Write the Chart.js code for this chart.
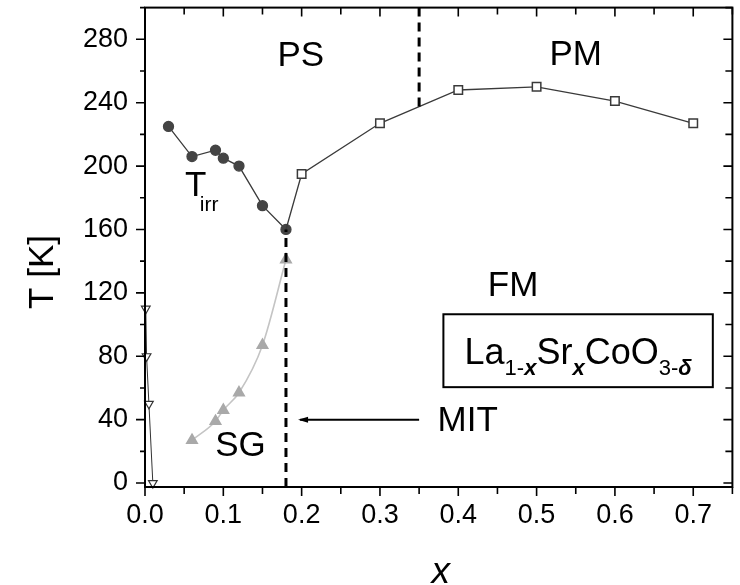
<!DOCTYPE html>
<html>
<head>
<meta charset="utf-8">
<script src="https://cdn.jsdelivr.net/npm/chart.js@4/dist/chart.umd.min.js"></script>
<style>
    html, body { margin: 0; padding: 0; background: #fff; }
</style>
</head>
<body>
<canvas id="phaseChart" width="740" height="585"></canvas>
<script>
// T_irr (filled circles)
const irrX = [0.03, 0.06, 0.09, 0.10, 0.12, 0.15, 0.18];
const irrT = [225, 206, 210, 205, 200, 175, 160];
// Curie temperature (open squares)
const curieX = [0.2, 0.3, 0.4, 0.5, 0.6, 0.7];
const curieT = [195, 227, 248, 250, 241, 227];
// spin-glass freezing (grey triangles)
const glassX = [0.06, 0.09, 0.10, 0.12, 0.15, 0.18];
const glassT = [27, 39, 46, 57, 87, 141];
// low-x transition (open down triangles)
const lowX = [0.001, 0.002, 0.005, 0.01];
const lowT = [110, 80, 50, 0];

// boundaries
const mitX = 0.18;
const mitTop = 160;
const psX = 0.35;
const psBottom = 237;
const arrowX = [0.35, 0.198];
const arrowT = 40;

// axes
const xMin = 0, xMax = 0.75;
const yMin = -2.5, yMax = 300;
const xTicks = [0, 0.05, 0.1, 0.15, 0.2, 0.25, 0.3, 0.35, 0.4, 0.45, 0.5, 0.55, 0.6, 0.65, 0.7, 0.75];
const xTickLabels = ['0.0', '0.1', '0.2', '0.3', '0.4', '0.5', '0.6', '0.7'];
const yTicks = [0, 20, 40, 60, 80, 100, 120, 140, 160, 180, 200, 220, 240, 260, 280, 300];
const yTickLabels = ['0', '40', '80', '120', '160', '200', '240', '280'];

const FONT = "'Liberation Sans', Arial, sans-serif";

const xLabelFor = (v) => xTickLabels.find((l) => Math.abs(parseFloat(l) - v) < 1e-6) || '';
const yLabelFor = (v) => yTickLabels.find((l) => Number(l) === v) || '';

const toPoints = (xs, ys) => xs.map((x, i) => ({ x, y: ys[i] }));

// frame, inward/outward ticks, annotations
const decorations = {
    id: 'decorations',
    afterDraw(chart) {
        const { ctx, chartArea: a, scales: { x, y } } = chart;
        const px = (v) => x.getPixelForValue(v);
        const py = (v) => y.getPixelForValue(v);
        ctx.save();
        ctx.strokeStyle = '#000';
        ctx.lineWidth = 2;
        ctx.strokeRect(a.left, a.top, a.right - a.left, a.bottom - a.top);

        ctx.lineWidth = 1.6;
        ctx.beginPath();
        xTicks.forEach((v) => {
            const len = xLabelFor(v) ? 9 : 7;
            const p = px(v);
            ctx.moveTo(p, a.bottom); ctx.lineTo(p, a.bottom + len);
            ctx.moveTo(p, a.top); ctx.lineTo(p, a.top + len);
        });
        yTicks.forEach((v) => {
            const len = yLabelFor(v) ? 9 : 5;
            const p = py(v);
            ctx.moveTo(a.left, p); ctx.lineTo(a.left - len, p);
            ctx.moveTo(a.right, p); ctx.lineTo(a.right - (yLabelFor(v) ? 9 : 7), p);
        });
        ctx.stroke();

        // arrow head of MIT pointer
        const hx = px(arrowX[1]), hy = py(arrowT);
        ctx.fillStyle = '#000';
        ctx.beginPath();
        ctx.moveTo(hx - 2, hy);
        ctx.lineTo(hx + 8, hy - 3);
        ctx.lineTo(hx + 8, hy + 3);
        ctx.closePath();
        ctx.fill();

        // region labels
        ctx.fillStyle = '#000';
        ctx.textAlign = 'center';
        ctx.textBaseline = 'middle';
        ctx.font = `35px ${FONT}`;
        [['PS', 0.199, 269], ['PM', 0.55, 270], ['FM', 0.47, 124], ['SG', 0.122, 23], ['MIT', 0.412, 39]]
            .forEach(([t, vx, vy]) => ctx.fillText(t, px(vx), py(vy)));

        // T_irr
        ctx.textAlign = 'left';
        ctx.textBaseline = 'alphabetic';
        ctx.font = `35px ${FONT}`;
        const tx = px(0.051), ty = py(181);
        ctx.fillText('T', tx, ty);
        ctx.font = `21px ${FONT}`;
        ctx.fillText('irr', tx + ctx.measureText('T').width + 2, ty + 15);

        // compound box
        const bl = px(0.381), br = px(0.725), bt = py(106.5), bb = py(60.5);
        ctx.lineWidth = 2;
        ctx.strokeRect(bl, bt, br - bl, bb - bt);
        const parts = [
            ['La', `36px ${FONT}`, 0],
            ['1-', `22px ${FONT}`, 11],
            ['x', `italic bold 22px ${FONT}`, 11],
            ['Sr', `36px ${FONT}`, 0],
            ['x', `italic bold 22px ${FONT}`, 11],
            ['CoO', `36px ${FONT}`, 0],
            ['3-', `22px ${FONT}`, 11],
            ['\u03B4', `italic bold 22px ${FONT}`, 11],
        ];
        let total = 0;
        parts.forEach(([t, f]) => { ctx.font = f; total += ctx.measureText(t).width; });
        let cx = (bl + br) / 2 - total / 2;
        const base = (bt + bb) / 2 + 13;
        parts.forEach(([t, f, dy]) => {
            ctx.font = f;
            ctx.fillText(t, cx, base + dy);
            cx += ctx.measureText(t).width;
        });

        // axis titles
        ctx.textAlign = 'center';
        ctx.textBaseline = 'middle';
        ctx.font = `35px ${FONT}`;
        ctx.save();
        ctx.translate(43, 272);
        ctx.rotate(-Math.PI / 2);
        ctx.fillText('T [K]', 0, 0);
        ctx.restore();
        ctx.font = `italic 37px ${FONT}`;
        ctx.fillText('x', (a.left + a.right) / 2 + 2, 573);
        ctx.restore();
    },
};

new Chart(document.getElementById('phaseChart'), {
    type: 'scatter',
    data: {
        datasets: [
            {
                label: 'MIT',
                data: [{ x: mitX, y: yMin }, { x: mitX, y: mitTop }],
                showLine: true,
                borderColor: '#000',
                borderWidth: 3,
                borderDash: [9, 6],
                pointRadius: 0,
            },
            {
                label: 'PS/PM',
                data: [{ x: psX, y: yMax }, { x: psX, y: psBottom }],
                showLine: true,
                borderColor: '#000',
                borderWidth: 3,
                borderDash: [9, 6],
                pointRadius: 0,
            },
            {
                label: 'arrow',
                data: toPoints(arrowX, [arrowT, arrowT]),
                showLine: true,
                borderColor: '#000',
                borderWidth: 2,
                pointRadius: 0,
            },
            {
                label: 'SG',
                data: toPoints(glassX, glassT),
                showLine: true,
                cubicInterpolationMode: 'monotone',
                borderColor: '#c4c4c4',
                borderWidth: 1.6,
                pointStyle: 'triangle',
                pointRadius: 6,
                pointBackgroundColor: '#a9a9a9',
                pointBorderColor: '#a9a9a9',
            },
            {
                label: 'Tc',
                data: [{ x: irrX.at(-1), y: irrT.at(-1) }, ...toPoints(curieX, curieT)],
                showLine: true,
                borderColor: '#3a3a3a',
                borderWidth: 1.3,
                pointStyle: 'rect',
                pointRadius: (c) => (c.dataIndex === 0 ? 0 : 6),
                pointBackgroundColor: '#fff',
                pointBorderColor: '#3a3a3a',
                pointBorderWidth: 1.5,
            },
            {
                label: 'Tirr',
                data: toPoints(irrX, irrT),
                showLine: true,
                borderColor: '#3a3a3a',
                borderWidth: 1.3,
                pointStyle: 'circle',
                pointRadius: 5,
                pointBackgroundColor: '#444',
                pointBorderColor: '#444',
            },
            {
                label: 'low',
                data: toPoints(lowX, lowT),
                showLine: true,
                borderColor: '#333',
                borderWidth: 1,
                pointStyle: 'triangle',
                rotation: 180,
                pointRadius: 5,
                pointBackgroundColor: '#fff',
                pointBorderColor: '#333',
                pointBorderWidth: 1.2,
            },
        ],
    },
    options: {
        responsive: false,
        animation: false,
        devicePixelRatio: 1,
        clip: false,
        layout: { padding: { top: 7, right: 7, left: 0, bottom: 0 } },
        plugins: {
            legend: { display: false },
            tooltip: { enabled: false },
        },
        scales: {
            x: {
                type: 'linear',
                min: xMin,
                max: xMax,
                afterBuildTicks: (scale) => { scale.ticks = xTicks.map((v) => ({ value: v })); },
                afterFit: (scale) => {
                    scale.height = 98;
                    scale.paddingLeft = 0;
                    scale.paddingRight = 0;
                },
                ticks: {
                    autoSkip: false,
                    maxRotation: 0,
                    padding: 12,
                    color: '#000',
                    font: { family: FONT, size: 27 },
                    callback: (v) => xLabelFor(v),
                },
                grid: { display: false, drawTicks: false },
                border: { display: false },
            },
            y: {
                type: 'linear',
                min: yMin,
                max: yMax,
                afterBuildTicks: (scale) => { scale.ticks = yTicks.map((v) => ({ value: v })); },
                afterFit: (scale) => {
                    scale.width = 145;
                    scale.paddingTop = 0;
                    scale.paddingBottom = 0;
                },
                ticks: {
                    autoSkip: false,
                    padding: 17,
                    color: '#000',
                    font: { family: FONT, size: 27 },
                    callback: (v) => yLabelFor(v),
                },
                grid: { display: false, drawTicks: false },
                border: { display: false },
            },
        },
    },
    plugins: [decorations],
});
</script>
</body>
</html>
